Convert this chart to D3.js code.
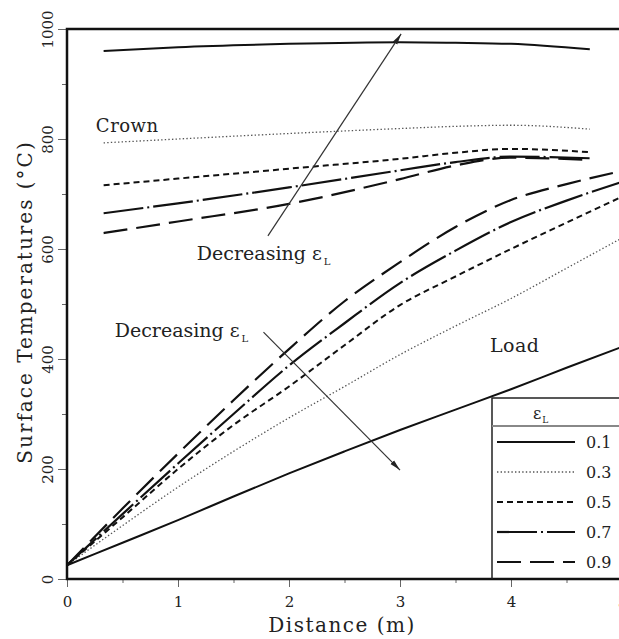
<!DOCTYPE html>
<html>
<head>
<meta charset="utf-8">
<script src="https://cdn.jsdelivr.net/npm/d3@7"></script>
<style>
  body { margin: 0; background: #fff; }
  svg { display: block; }
  text { font-family: "DejaVu Serif", serif; fill: #222; }
</style>
</head>
<body>
<script>
// emissivity values (legend)
const emissivity = ["0.1", "0.3", "0.5", "0.7", "0.9"];

// crown surface temperatures (°C)
const crownX = [0.33, 1, 2, 3, 3.5, 4, 4.71];
const crown01 = [960, 967, 973, 976, 975, 973, 963];
const crown03 = [793, 800, 810, 819, 823, 825, 818];
const crown05 = [716, 728, 746, 764, 775, 782, 776];
const crown07 = [665, 683, 712, 743, 758, 768, 765];
const crown09 = [629, 650, 682, 727, 752, 766, 762];

// load surface temperatures (°C)
const loadX = [0, 0.5, 1, 1.5, 2, 2.5, 3, 3.5, 4, 4.5, 5];
const load01 = [25, 66, 107, 150, 192, 232, 271, 308, 345, 384, 422];
const load03 = [25, 97, 167, 232, 293, 350, 408, 460, 510, 565, 620];
const load05 = [25, 112, 200, 280, 350, 425, 498, 550, 600, 648, 695];
const load07 = [25, 118, 210, 300, 388, 465, 538, 597, 649, 688, 722];
const load09 = [25, 128, 228, 325, 418, 505, 576, 640, 689, 718, 742];

const xTicks = [0, 1, 2, 3, 4, 5];
const yTicks = [0, 200, 400, 600, 800, 1000];

const crowns = [crown01, crown03, crown05, crown07, crown09];
const loads = [load01, load03, load05, load07, load09];

const styles = [
  { dash: null, width: 2, color: "#111" },
  { dash: "1.4,2.2", width: 1.3, color: "#555" },
  { dash: "6,4", width: 2, color: "#111" },
  { dash: "40,4,2,4", width: 2.2, color: "#111" },
  { dash: "24,9", width: 2.2, color: "#111" }
];

const W = 619, H = 639;
const x = d3.scaleLinear().domain([0, 5]).range([67, 622]);
const y = d3.scaleLinear().domain([0, 1000]).range([579, 29]);

const svg = d3.select("body").append("svg")
  .attr("width", W)
  .attr("height", H);

svg.append("defs").append("marker")
  .attr("id", "head")
  .attr("markerUnits", "userSpaceOnUse")
  .attr("viewBox", "0 -3 11 6")
  .attr("refX", 11).attr("refY", 0)
  .attr("markerWidth", 11).attr("markerHeight", 6)
  .attr("orient", "auto")
  .append("path")
  .attr("d", "M0,-2.6L11,0L0,2.6Z")
  .attr("fill", "#222");

// axes
svg.append("g")
  .attr("transform", `translate(${x(0)},0)`)
  .call(d3.axisLeft(y).tickValues(d3.range(100, 1000, 200)).tickSize(5).tickFormat(""));
const yAxis = svg.append("g")
  .attr("transform", `translate(${x(0)},0)`)
  .call(d3.axisLeft(y).tickValues(yTicks).tickSize(9).tickFormat(d3.format("d")));
yAxis.selectAll("text")
  .attr("x", 0).attr("y", -14).attr("dy", 0)
  .attr("text-anchor", "middle")
  .attr("transform", "rotate(-90)");

svg.append("g")
  .attr("transform", `translate(0,${y(0)})`)
  .call(d3.axisBottom(x).tickValues([0.5, 1.5, 2.5, 3.5, 4.5]).tickSize(4).tickFormat(""));
const xAxis = svg.append("g")
  .attr("transform", `translate(0,${y(0)})`)
  .call(d3.axisBottom(x).tickValues(xTicks).tickSize(8).tickFormat(d3.format("d")));
xAxis.selectAll("text").attr("y", 28).attr("dy", 0);

svg.selectAll(".domain").remove();
svg.selectAll(".tick line").attr("stroke", "#666");
svg.selectAll(".tick text")
  .style("font-family", '"DejaVu Serif", serif')
  .style("font-size", "15px")
  .attr("fill", "#333");

// frame
svg.append("path")
  .attr("d", `M${x(5)},${y(1000)}H${x(0)}V${y(0)}H${x(5)}`)
  .attr("fill", "none")
  .attr("stroke", "#111")
  .attr("stroke-width", 2.5);

// axis titles
svg.append("text")
  .attr("transform", `translate(32,302) rotate(-90)`)
  .attr("text-anchor", "middle")
  .style("font-size", "20px")
  .style("letter-spacing", "2px")
  .attr("fill", "#333")
  .text("Surface Temperatures (°C)");

svg.append("text")
  .attr("x", 342).attr("y", 632)
  .attr("text-anchor", "middle")
  .style("font-size", "20px")
  .style("letter-spacing", "1.5px")
  .attr("fill", "#333")
  .text("Distance (m)");

// curves
const line = d3.line()
  .x(d => x(d[0]))
  .y(d => y(d[1]))
  .curve(d3.curveMonotoneX);

function drawSeries(xs, vals, s) {
  svg.append("path")
    .datum(xs.map((v, i) => [v, vals[i]]))
    .attr("d", line)
    .attr("fill", "none")
    .attr("stroke", s.color)
    .attr("stroke-width", s.width)
    .attr("stroke-dasharray", s.dash);
}
crowns.forEach((c, i) => drawSeries(crownX, c, styles[i]));
loads.forEach((l, i) => drawSeries(loadX, l, styles[i]));

// annotations
function label(px, py, txt, size) {
  return svg.append("text")
    .attr("x", x(px)).attr("y", y(py))
    .style("font-size", size + "px")
    .style("letter-spacing", "0.5px")
    .text(txt);
}
label(0.26, 813, "Crown", 18);
label(3.81, 413, "Load", 19);

function decreasing(px, py) {
  const t = svg.append("text")
    .attr("x", x(px)).attr("y", y(py))
    .style("font-size", "19px");
  t.append("tspan").text("Decreasing ε");
  t.append("tspan").attr("dy", 5).attr("dx", 2).style("font-size", "10px").text("L");
}
decreasing(1.17, 580);
decreasing(0.43, 440);

function arrow(x1, y1, x2, y2) {
  svg.append("line")
    .attr("x1", x(x1)).attr("y1", y(y1))
    .attr("x2", x(x2)).attr("y2", y(y2))
    .attr("stroke", "#333")
    .attr("stroke-width", 1.2)
    .attr("marker-end", "url(#head)");
}
arrow(1.81, 624, 3.01, 991);
arrow(1.77, 449, 3.0, 198);

// legend
const lg = svg.append("g");
lg.append("path")
  .attr("d", `M${x(5)},398H492V${y(0)}`)
  .attr("fill", "none")
  .attr("stroke", "#222")
  .attr("stroke-width", 1.5);
lg.append("line")
  .attr("x1", 492).attr("x2", W)
  .attr("y1", 426).attr("y2", 426)
  .attr("stroke", "#888")
  .attr("stroke-width", 2);
const hdr = lg.append("text").attr("x", 533).attr("y", 419).style("font-size", "16px");
hdr.append("tspan").text("ε");
hdr.append("tspan").attr("dy", 4).attr("dx", 1).style("font-size", "9px").text("L");

emissivity.forEach((e, i) => {
  const yy = 442 + i * 30;
  const s = styles[i];
  lg.append("line")
    .attr("x1", 497).attr("x2", 575)
    .attr("y1", yy).attr("y2", yy)
    .attr("stroke", s.color)
    .attr("stroke-width", s.width)
    .attr("stroke-dasharray", s.dash);
  lg.append("text")
    .attr("x", 586).attr("y", yy + 6)
    .style("font-size", "16px")
    .attr("fill", "#333")
    .text(e);
});
</script>
</body>
</html>
